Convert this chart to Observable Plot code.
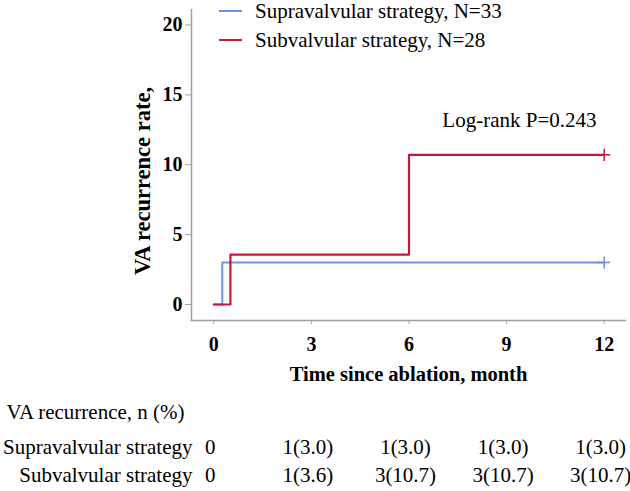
<!DOCTYPE html>
<html><head><meta charset="utf-8">
<script src="https://cdn.jsdelivr.net/npm/d3@7"></script>
<script src="https://cdn.jsdelivr.net/npm/@observablehq/plot@0.6"></script>
<style>body{margin:0;background:#fff;} svg{display:block;}</style>
</head><body><div id="chart"></div>
<script>
// Data
const supraTimes = [0, 0.26, 12];
const supraRates = [0, 3.0, 3.0];
const subTimes = [0, 0.51, 6, 12];
const subRates = [0, 3.57, 10.71, 10.71];
const seriesNames = ["Supravalvular strategy, N=33", "Subvalvular strategy, N=28"];
const seriesColors = ["#6b93dd", "#c8163c"];
const xTicks = [0, 3, 6, 9, 12];
const yTicks = [0, 5, 10, 15, 20];
const tableTitle = "VA recurrence, n (%)";
const rowLabels = ["Supravalvular strategy", "Subvalvular strategy"];
const supraTable = ["0", "1(3.0)", "1(3.0)", "1(3.0)", "1(3.0)"];
const subTable = ["0", "1(3.6)", "3(10.7)", "3(10.7)", "3(10.7)"];
const pText = "Log-rank P=0.243";

const supra = supraTimes.map((t, i) => ({t, r: supraRates[i], s: seriesNames[0]}));
const sub = subTimes.map((t, i) => ({t, r: subRates[i], s: seriesNames[1]}));
const supraRow = xTicks.map((t, i) => ({t, v: supraTable[i]}));
const subRow = xTicks.map((t, i) => ({t, v: subTable[i]}));

const font = "'Liberation Serif', 'Times New Roman', serif";
const axisGray = "#a0a0a0";
const txtSize = 21;

function legendMark(index, scales, values, dims) {
  const g = d3.create("svg:g");
  seriesNames.forEach((name, i) => {
    const y = 11 + i * 29;
    g.append("line").attr("x1", 219).attr("x2", 242).attr("y1", y).attr("y2", y)
      .attr("stroke", seriesColors[i]).attr("stroke-width", 2);
    g.append("text").attr("x", 255).attr("y", y).attr("dy", "0.32em")
      .attr("text-anchor", "start")
      .attr("font-size", txtSize).attr("font-family", font).attr("fill", "#000").text(name);
  });
  return g.node();
}

const common = {fill: "#000", lineAnchor: "middle", fontSize: txtSize};

const chart = Plot.plot({
  width: 630, height: 491,
  marginTop: 9, marginBottom: 171, marginLeft: 191, marginRight: 5,
  style: {fontFamily: font, fontSize: "20px", color: "#000", background: "#fff"},
  x: {domain: [-0.686, 12.655]},
  y: {domain: [-1.145, 21.11]},
  marks: [
    Plot.frame({anchor: "left", stroke: axisGray, strokeWidth: 1.5}),
    Plot.frame({anchor: "bottom", stroke: axisGray, strokeWidth: 1.5}),
    Plot.axisY({ticks: yTicks, tickSize: 6, tickPadding: 3, stroke: axisGray, fontWeight: "bold", fontSize: 20, fill: "#000", label: null}),
    Plot.axisX({ticks: xTicks, tickSize: 4, tickPadding: 12, stroke: axisGray, fontWeight: "bold", fontSize: 20, fill: "#000", label: null}),
    Plot.line(supra, {x: "t", y: "r", stroke: seriesColors[0], strokeWidth: 2, curve: "step-after"}),
    Plot.line(sub, {x: "t", y: "r", stroke: seriesColors[1], strokeWidth: 2.2, curve: "step-after"}),
    Plot.dot([supra[supra.length - 1]], {x: "t", y: "r", symbol: "plus", r: 4, stroke: seriesColors[0], strokeWidth: 1.5}),
    Plot.dot([sub[sub.length - 1]], {x: "t", y: "r", symbol: "plus", r: 4, stroke: seriesColors[1], strokeWidth: 1.5}),
    Plot.text(["VA recurrence rate,"], {...common, frameAnchor: "left", textAnchor: "middle", rotate: -90, dx: -49, dy: 16, fontWeight: "bold", fontSize: 22.5}),
    Plot.text(["Time since ablation, month"], {...common, frameAnchor: "bottom", textAnchor: "middle", dy: 54, fontWeight: "bold", fontSize: 20.5}),
    Plot.text([pText], {...common, frameAnchor: "top-right", textAnchor: "end", dx: -29, dy: 111}),
    Plot.text([tableTitle], {...common, frameAnchor: "bottom-left", textAnchor: "start", dx: -185, dy: 92}),
    Plot.text([rowLabels[0]], {...common, frameAnchor: "bottom-left", textAnchor: "end", dx: 1, dy: 127}),
    Plot.text([rowLabels[1]], {...common, frameAnchor: "bottom-left", textAnchor: "end", dx: 1, dy: 155}),
    Plot.text(supraRow, {...common, x: "t", frameAnchor: "bottom", textAnchor: "middle", text: "v", dx: -3.5, dy: 127}),
    Plot.text(subRow, {...common, x: "t", frameAnchor: "bottom", textAnchor: "middle", text: "v", dx: -3.5, dy: 155}),
    legendMark
  ]
});
document.getElementById("chart").appendChild(chart);
</script></body></html>
